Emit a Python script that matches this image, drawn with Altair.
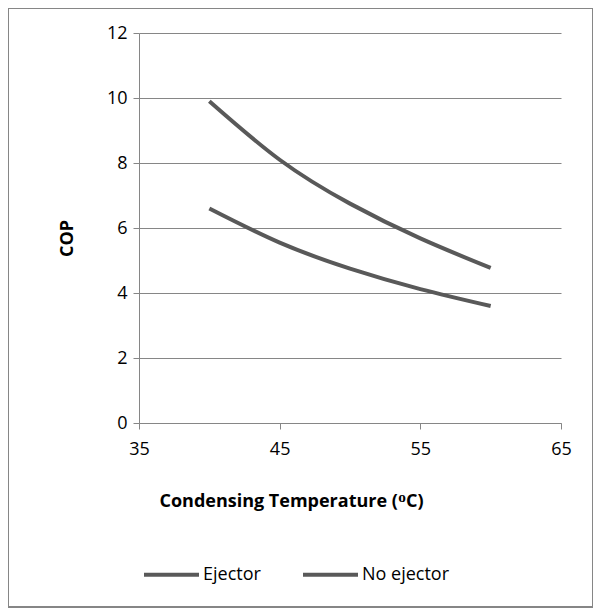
import altair as alt
import pandas as pd

temps = [40, 45, 50, 55, 60]
ejector = [9.9, 8.1, 6.75, 5.68, 4.77]
no_ejector = [6.6, 5.55, 4.75, 4.12, 3.6]
series_names = ["Ejector", "No ejector"]

rows = []
for t, v in zip(temps, ejector):
    rows.append({"T": t, "COP": v, "Series": series_names[0]})
for t, v in zip(temps, no_ejector):
    rows.append({"T": t, "COP": v, "Series": series_names[1]})
df = pd.DataFrame(rows)

FONT = "Open Sans"
GRAY = "#868686"
LINE = "#595959"

border = alt.Chart(pd.DataFrame({"a": [0]})).mark_rect(
    fill=None, stroke=GRAY, strokeWidth=2
).encode(
    x=alt.value(-131), x2=alt.value(454),
    y=alt.value(-25), y2=alt.value(574)
)

lines = alt.Chart(df).mark_line(strokeWidth=4, interpolate="natural").encode(
    x=alt.X("T:Q", scale=alt.Scale(domain=[35, 65], nice=False),
            axis=alt.Axis(values=[35, 45, 55, 65], title="Condensing Temperature (ᴼC)",
                          grid=False, domainColor=GRAY, tickColor=GRAY, tickSize=6,
                          labelFontSize=18, labelPadding=11, labelColor="#000",
                          labelFlush=False,
                          titleFontSize=18, titleFontWeight="bold", titleColor="#000",
                          titleX=152, titleY=78, titleBaseline="middle")),
    y=alt.Y("COP:Q", scale=alt.Scale(domain=[0, 12], nice=False),
            axis=alt.Axis(values=[0, 2, 4, 6, 8, 10, 12], title="COP",
                          grid=True, gridColor=GRAY, domainColor=GRAY, tickColor=GRAY,
                          tickSize=6, labelFontSize=18, labelPadding=6, labelColor="#000",
                          titleFontSize=18, titleFontWeight="bold", titleColor="#000",
                          titleX=-72, titleY=205, titleBaseline="middle", titleAngle=-90)),
    color=alt.Color("Series:N",
                    scale=alt.Scale(domain=series_names, range=[LINE, LINE]),
                    legend=alt.Legend(title=None, orient="none", direction="horizontal",
                                      legendX=3, legendY=512, symbolType="stroke",
                                      symbolSize=3025, symbolStrokeWidth=4,
                                      labelFontSize=18, labelColor="#000",
                                      labelOffset=2, columnPadding=34))
)

chart = alt.layer(border, lines).properties(
    width=422, height=390,
    autosize=alt.AutoSizeParams(type="none"),
    padding={"left": 131, "top": 25, "right": 32, "bottom": 185}
).configure(font=FONT).configure_view(stroke=None)

chart.save("out.html", embed_options={"renderer": "svg", "actions": False})
